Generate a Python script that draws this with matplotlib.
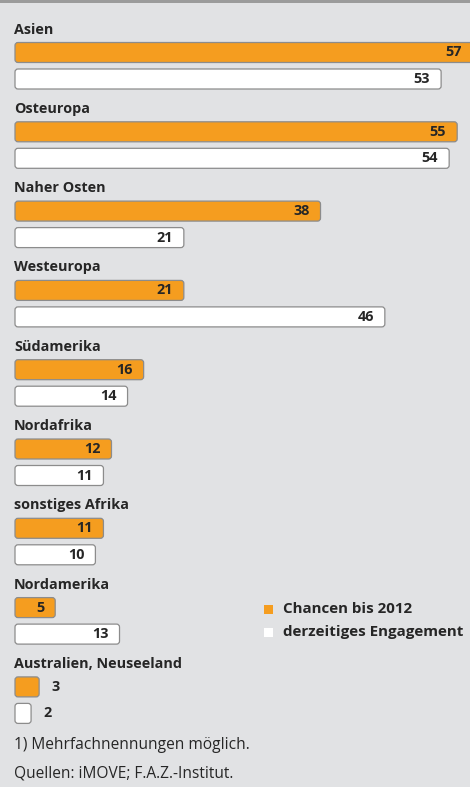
import matplotlib.pyplot as plt
from matplotlib.patches import FancyBboxPatch, Rectangle

regions = ["Asien", "Osteuropa", "Naher Osten", "Westeuropa", "Südamerika",
           "Nordafrika", "sonstiges Afrika", "Nordamerika", "Australien, Neuseeland"]
chancen = [57, 55, 38, 21, 16, 12, 11, 5, 3]
engagement = [53, 54, 21, 46, 14, 11, 10, 13, 2]
series_names = ["Chancen bis 2012", "derzeitiges Engagement"]
notes = ["1) Mehrfachnennungen möglich.", "Quellen: iMOVE; F.A.Z.-Institut."]

bg = "#e1e2e4"
orange = "#f59d1f"
edge = "#8c8c8c"
ink = "#262626"

plt.rcParams['font.family'] = ['Open Sans', 'DejaVu Sans']
fs_lab = 10.4   # region names and values
fs_leg = 10.9
fs_note = 11.2

W, H = 470, 787
px_per_unit = 8.04
fig = plt.figure(figsize=(W / 100, H / 100), dpi=100, facecolor=bg)
ax = fig.add_axes([0, 0, 1, 1])
ax.set_facecolor(bg)
ax.set_xlim(-15 / px_per_unit, (W - 15) / px_per_unit)
ax.set_ylim(H, 0)  # y in pixel rows
ax.axis("off")

# top rule
ax.add_patch(Rectangle((0, 1 - 2.5 / H), 1, 2.5 / H, transform=ax.transAxes,
                       color="#9b9b9b", lw=0, clip_on=False))

y0, step, gap, bh = 52.5, 79.3, 26.5, 20


def rbar(x, y, color):
    # rounded bar, radius about 3 px in both directions
    p = FancyBboxPatch((0, y - bh / 2), x, bh,
                       boxstyle="round,pad=0,rounding_size=%f" % (3 / px_per_unit),
                       mutation_aspect=px_per_unit,
                       fc=color, ec=edge, lw=0.9)
    ax.add_patch(p)


def vlabel(x, y):
    if x <= 3:
        off, ha = 12, "left"
    else:
        off, ha = -11, "right"
    ax.annotate(str(x), xy=(x, y), xytext=(off, 0), textcoords="offset pixels",
                ha=ha, va="center", fontsize=fs_lab, fontweight="bold", color=ink,
                annotation_clip=False)


for i, name in enumerate(regions):
    yc = y0 + step * i
    ax.text(-1 / px_per_unit, yc - 19, name, ha="left", va="baseline",
            fontsize=fs_lab, fontweight="bold", color=ink)
    rbar(chancen[i], yc, orange)
    vlabel(chancen[i], yc)
    rbar(engagement[i], yc + gap, "white")
    vlabel(engagement[i], yc + gap)

# legend
for j, (name, col) in enumerate(zip(series_names, [orange, "white"])):
    ly = 609 + 23 * j
    ax.add_patch(Rectangle(((264 - 15) / px_per_unit, ly - 4.5), 9 / px_per_unit, 9,
                           fc=col, ec="none"))
    ax.text((283 - 15) / px_per_unit, ly, name, ha="left", va="center",
            fontsize=fs_leg, fontweight="bold", color=ink)

for k, t in enumerate(notes):
    ax.text(-1 / px_per_unit, 745 + 28 * k, t, ha="left", va="center",
            fontsize=fs_note, color=ink)

fig.savefig("out.png", dpi=100, facecolor=bg)
